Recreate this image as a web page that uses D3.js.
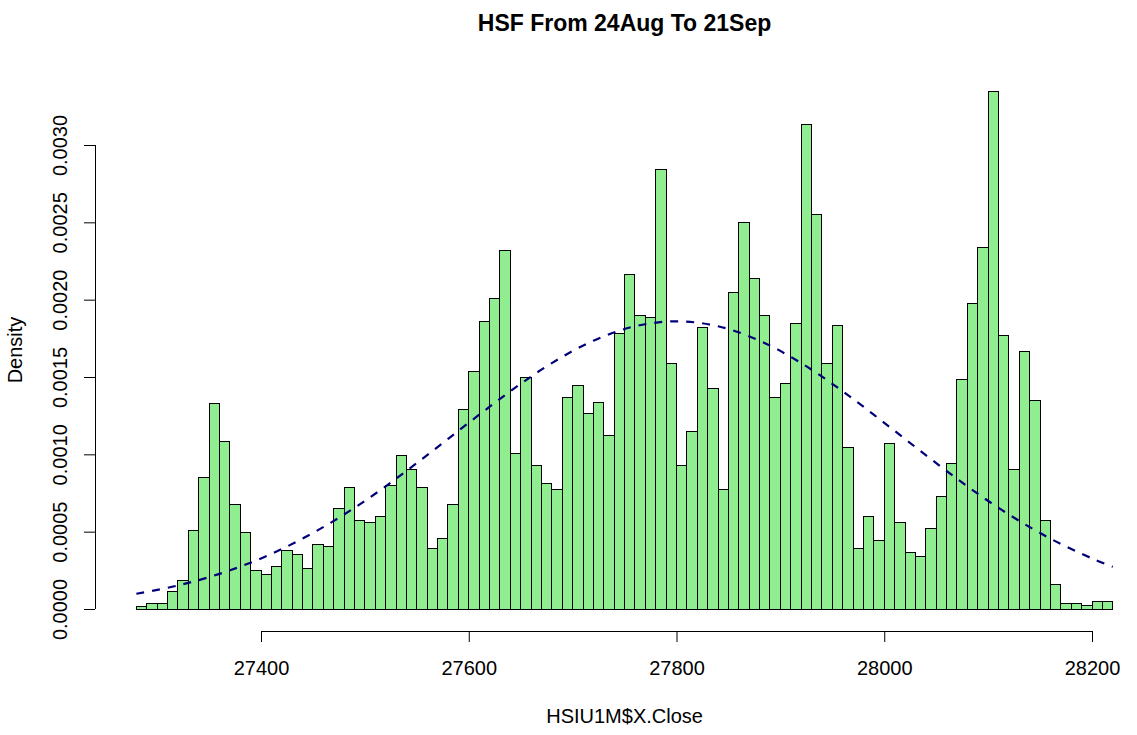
<!DOCTYPE html>
<html>
<head>
<meta charset="utf-8">
<script src="https://cdn.jsdelivr.net/npm/d3@7"></script>
<style>
  html, body { margin: 0; padding: 0; background: #fff; }
  svg { display: block; }
  text { font-family: "Liberation Sans", Arial, sans-serif; fill: #000; }
</style>
</head>
<body>
<script>
// ---- data ----
const title = "HSF From 24Aug To 21Sep";
const xLabel = "HSIU1M$X.Close";
const yLabel = "Density";

const breaks = [27280,27290,27300,27310,27320,27330,27340,27350,27360,27370,
  27380,27390,27400,27410,27420,27430,27440,27450,27460,27470,
  27480,27490,27500,27510,27520,27530,27540,27550,27560,27570,
  27580,27590,27600,27610,27620,27630,27640,27650,27660,27670,
  27680,27690,27700,27710,27720,27730,27740,27750,27760,27770,
  27780,27790,27800,27810,27820,27830,27840,27850,27860,27870,
  27880,27890,27900,27910,27920,27930,27940,27950,27960,27970,
  27980,27990,28000,28010,28020,28030,28040,28050,28060,28070,
  28080,28090,28100,28110,28120,28130,28140,28150,28160,28170,
  28180,28190,28200,28210,28220];

const density = [0.000013,0.000037,0.000037,0.000114,0.000187,0.000507,0.00085,0.001327,0.00108,0.000674,
  0.000494,0.000249,0.000223,0.000275,0.000378,0.000352,0.000262,0.000417,0.000404,0.000649,
  0.000784,0.000571,0.000558,0.000597,0.000797,0.00099,0.0009,0.000784,0.000391,0.000455,
  0.000674,0.001287,0.001538,0.00186,0.002008,0.002318,0.001003,0.001499,0.000926,0.00081,
  0.000771,0.00137,0.001448,0.001261,0.001338,0.001119,0.001783,0.002163,0.0019,0.001886,
  0.00284,0.001589,0.000926,0.001145,0.001821,0.001424,0.000771,0.002047,0.002498,0.002137,
  0.0019,0.00137,0.00146,0.001847,0.003135,0.002549,0.001589,0.001834,0.001041,0.000391,
  0.000597,0.000442,0.001067,0.000558,0.000365,0.000339,0.00052,0.000727,0.000938,0.001484,
  0.001972,0.002339,0.003344,0.001768,0.0009,0.001664,0.001348,0.000569,0.000158,0.000035,
  0.000035,0.000022,0.000048,0.000048];

// normal-density curve
const curveX = [27280,27320,27360,27400,27440,27480,27520,27560,27600,27640,27680,27720,27760,
  27800,27840,27880,27920,27960,28000,28040,28080,28120,28160,28200,28220];
const curveY = [0.0000986,0.000152,0.000227,0.000327,0.000455,0.000611,0.000793,0.000995,0.001204,
  0.001408,0.00159,0.001735,0.001828,0.00186,0.001828,0.001735,0.00159,0.001408,0.001204,
  0.000995,0.000793,0.000611,0.000455,0.000327,0.000273];

const xTicks = [27400,27600,27800,28000,28200];
const yTicks = [0,0.0005,0.0010,0.0015,0.0020,0.0025,0.0030];

// ---- layout ----
const W = 1137, H = 735;
const svg = d3.select("body").append("svg").attr("width", W).attr("height", H);

const x = d3.scaleLinear().domain([27400, 28200]).range([261, 1092]);
const y = d3.scaleLinear().domain([0, 0.003]).range([609, 145]);
const plotCenterX = (x(27242.4) + x(28257.6)) / 2;
const axisY = 631;
const axisX = 95;
const tick = 11;

// bars
const bins = density.map((d, i) => ({x0: breaks[i], x1: breaks[i+1], d}));
svg.append("g").attr("shape-rendering", "crispEdges")
  .selectAll("rect").data(bins).join("rect")
  .attr("x", b => x(b.x0))
  .attr("y", b => y(b.d))
  .attr("width", b => x(b.x1) - x(b.x0))
  .attr("height", b => y(0) - y(b.d))
  .attr("fill", "#90EE90")
  .attr("stroke", "#000")
  .attr("stroke-width", 1);

// curve
const line = d3.line().x((d, i) => x(curveX[i])).y(d => y(d)).curve(d3.curveCatmullRom);
svg.append("path").datum(curveY)
  .attr("d", line)
  .attr("fill", "none")
  .attr("stroke", "#00007A")
  .attr("stroke-width", 2.2)
  .attr("stroke-dasharray", "8,8");

// x axis
const gx = svg.append("g").attr("transform", `translate(0,${axisY})`);
gx.call(d3.axisBottom(x).tickValues(xTicks).tickSize(tick).tickPadding(20).tickFormat(d3.format("d")));
gx.select(".domain").attr("d", `M${x(27400)},0.5H${x(28200)}`).attr("stroke", "#000");
gx.selectAll(".tick line").attr("stroke", "#000");
gx.selectAll(".tick text").attr("font-size", 20).attr("font-family", "Liberation Sans, Arial, sans-serif")
  .attr("fill", "#000").attr("dy", null).attr("y", 44);

// y axis
const gy = svg.append("g").attr("transform", `translate(${axisX},0)`);
gy.call(d3.axisLeft(y).tickValues(yTicks).tickSize(tick).tickFormat(d3.format(".4f")));
gy.select(".domain").attr("d", `M0.5,${y(0)}V${y(0.003)}`).attr("stroke", "#000");
gy.selectAll(".tick line").attr("stroke", "#000");
gy.selectAll(".tick text")
  .attr("font-size", 20).attr("font-family", "Liberation Sans, Arial, sans-serif").attr("fill", "#000")
  .attr("x", null).attr("dy", null)
  .attr("text-anchor", "middle")
  .attr("transform", "translate(-28,0) rotate(-90)");

// titles
svg.append("text").attr("x", plotCenterX).attr("y", 31)
  .attr("text-anchor", "middle").attr("font-size", 23).attr("font-weight", "bold").text(title);
svg.append("text").attr("x", plotCenterX).attr("y", 723)
  .attr("text-anchor", "middle").attr("font-size", 20).text(xLabel);
svg.append("text").attr("transform", `translate(22,350) rotate(-90)`)
  .attr("text-anchor", "middle").attr("font-size", 20).text(yLabel);
</script>
</body>
</html>
